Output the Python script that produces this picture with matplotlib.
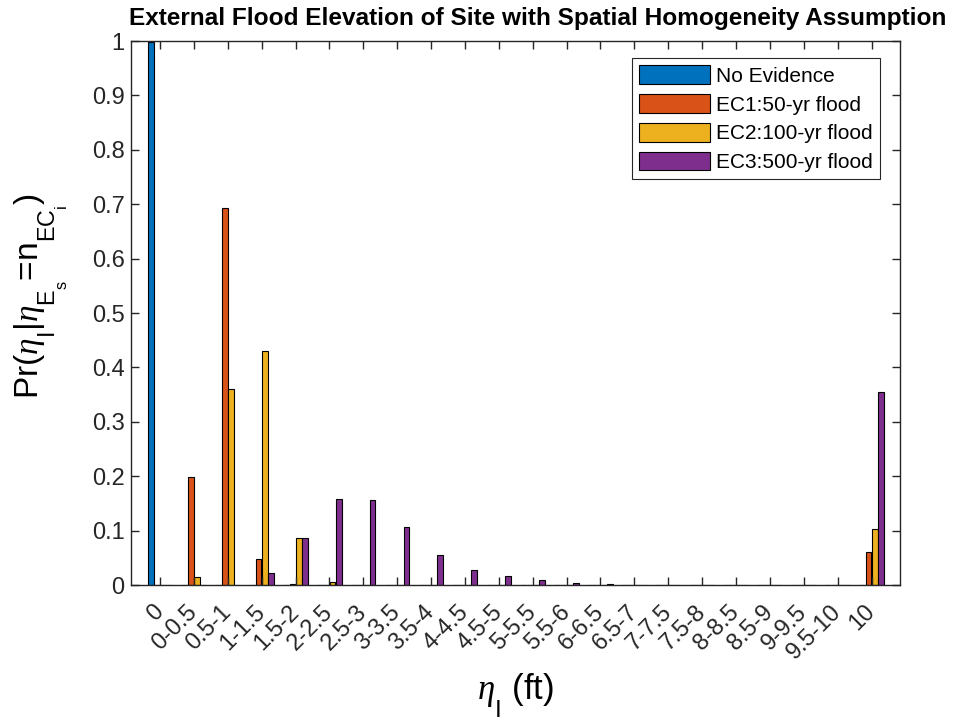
import numpy as np
import matplotlib
matplotlib.use("Agg")
import matplotlib.pyplot as plt

plt.rcParams['font.family'] = ['Liberation Sans', 'DejaVu Sans']
plt.rcParams['mathtext.fontset'] = 'custom'
plt.rcParams['mathtext.rm'] = 'Liberation Sans'
plt.rcParams['mathtext.it'] = 'Liberation Serif:italic'

# deeper subscripts, like MATLAB's TeX interpreter
try:
    from matplotlib import _mathtext
    _mathtext.FontConstantsBase.subdrop = 1.1
    _mathtext.FontConstantsBase.sub1 = 1.1
except Exception:
    pass

categories = ['0', '0-0.5', '0.5-1', '1-1.5', '1.5-2', '2-2.5', '2.5-3', '3-3.5',
              '3.5-4', '4-4.5', '4.5-5', '5-5.5', '5.5-6', '6-6.5', '6.5-7',
              '7-7.5', '7.5-8', '8-8.5', '8.5-9', '9-9.5', '9.5-10', '10']

no_evidence = [0.998, 0, 0, 0, 0, 0, 0, 0, 0, 0, 0, 0, 0, 0, 0, 0, 0, 0, 0, 0, 0, 0]
ec1_50yr = [0, 0.198, 0.693, 0.047, 0.001, 0, 0, 0, 0, 0, 0, 0, 0, 0, 0, 0, 0, 0, 0, 0, 0, 0.061]
ec2_100yr = [0, 0.014, 0.361, 0.430, 0.086, 0.006, 0, 0, 0, 0, 0, 0, 0, 0, 0, 0, 0, 0, 0, 0, 0, 0.103]
ec3_500yr = [0, 0, 0, 0.022, 0.087, 0.158, 0.156, 0.107, 0.055, 0.028, 0.017, 0.009,
             0.004, 0.002, 0, 0, 0, 0, 0, 0, 0, 0.354]

series_names = ['No Evidence', 'EC1:50-yr flood', 'EC2:100-yr flood', 'EC3:500-yr flood']
series_values = [no_evidence, ec1_50yr, ec2_100yr, ec3_500yr]
colors = ['#0072BD', '#D95319', '#EDB120', '#7E2F8E']

fig = plt.figure(figsize=(9.54, 7.22), dpi=100)
ax = fig.add_axes([131/954, 1-585/722, 769/954, 544/722])

x = np.arange(1, len(categories) + 1)
slot = 0.182
for k, (name, vals, c) in enumerate(zip(series_names, series_values, colors)):
    ax.bar(x + (k - 1.5) * slot, vals, width=slot * 0.95, color=c,
           edgecolor='black', linewidth=0.8, label=name)

ax.set_xlim(0.144, 22.84)
ax.set_ylim(0, 1)
ax.set_yticks(np.arange(0, 1.01, 0.1))
ax.set_yticklabels(['0', '0.1', '0.2', '0.3', '0.4', '0.5', '0.6', '0.7', '0.8', '0.9', '1'])
ax.set_xticks(x)
ax.set_xticklabels(categories, rotation=45, ha='right', va='center',
                   rotation_mode='anchor')

for s in ax.spines.values():
    s.set_color('#262626')
    s.set_linewidth(1.0)
ax.tick_params(axis='both', direction='in', length=6, width=1.0, colors='#262626',
               labelsize=17, top=True, right=True, labelcolor='#262626')
ax.tick_params(axis='x', pad=17)
ax.tick_params(axis='y', pad=4.5)

ylab = r'Pr($\eta_{\mathrm{I}}$|$\eta_{\mathrm{E}_{\mathrm{s}}}$=$\mathrm{n}_{\mathrm{EC}_{\mathrm{i}}}$)'
fig.text(38/954, 1-296/722, ylab, rotation=90, rotation_mode='anchor',
         ha='center', va='baseline', fontsize=24, color='black')
fig.text(515/954, 1-699/722, r'$\eta_{\mathrm{I}}$ (ft)', ha='center', va='baseline',
         fontsize=25, color='black')

fig.text(538/954, 1-18/722, 'External Flood Elevation of Site with Spatial Homogeneity Assumption',
         ha='center', va='center', fontsize=17.6, fontweight='bold')

leg = ax.legend(loc='upper right', bbox_to_anchor=(880/954, 1-58/722),
                bbox_transform=fig.transFigure, borderaxespad=0, fontsize=15,
                handlelength=3.4, handleheight=1.0, labelspacing=0.4,
                handletextpad=0.3, borderpad=0.35, fancybox=False, framealpha=1)
leg.get_frame().set_edgecolor('#262626')
leg.get_frame().set_linewidth(0.8)

fig.savefig('out.png', dpi=100)
